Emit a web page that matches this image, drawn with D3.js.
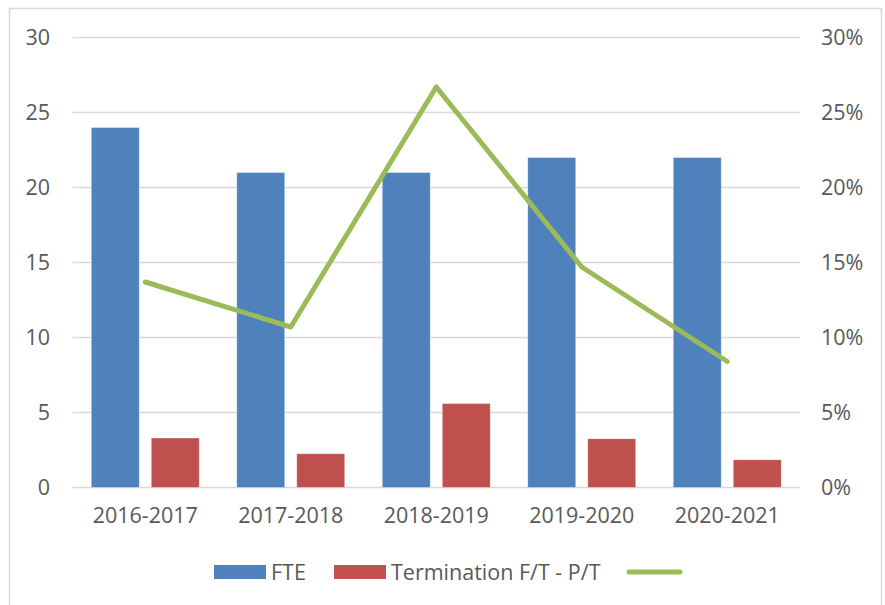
<!DOCTYPE html>
<html>
<head>
<meta charset="utf-8">
<script src="https://cdn.jsdelivr.net/npm/d3@7"></script>
<style>
  body { margin: 0; background: #fff; }
  svg text { font-family: "Open Sans", sans-serif; fill: #595959; }
</style>
</head>
<body>
<div id="main-container"></div>
<script>
// Data
const CATEGORIES = ['2016-2017', '2017-2018', '2018-2019', '2019-2020', '2020-2021'];
const FTE = [24, 21, 21, 22, 22];
const TERMINATION = [3.3, 2.25, 5.6, 3.25, 1.85];
const RATE = [0.137, 0.107, 0.267, 0.147, 0.084]; // right axis, percent
const LEFT_TICKS = [0, 5, 10, 15, 20, 25, 30];
const RIGHT_TICKS = [0, 0.05, 0.10, 0.15, 0.20, 0.25, 0.30];
const SERIES = ['FTE', 'Termination F/T - P/T'];

const COLORS = { FTE: '#4f81bd', 'Termination F/T - P/T': '#c0504d', line: '#9bbb59' };

const SVG_WIDTH = 885;
const SVG_HEIGHT = 605;
const PLOT = { left: 72.5, right: 800, top: 37.5, bottom: 487.5 };
const FONT_SIZE = '21.5px';

const SVG = d3.select('#main-container').append('svg')
    .attr('width', SVG_WIDTH)
    .attr('height', SVG_HEIGHT);

// Outer frame
SVG.append('rect')
    .attr('x', 9.5)
    .attr('y', 8.5)
    .attr('width', 872)
    .attr('height', 610)
    .attr('fill', '#fff')
    .attr('stroke', '#d9d9d9')
    .attr('stroke-width', 1.5);

// Scales
const X = d3.scaleBand(CATEGORIES, [PLOT.left, PLOT.right]);
const X_INNER = d3.scaleBand(SERIES, [0, X.bandwidth()])
    .paddingInner(0.2)
    .paddingOuter(0.3125);
const Y_LEFT = d3.scaleLinear([0, 30], [PLOT.bottom, PLOT.top]);
const Y_RIGHT = d3.scaleLinear([0, 0.30], [PLOT.bottom, PLOT.top]);

// Gridlines
SVG.append('g')
    .selectAll('line')
    .data(LEFT_TICKS)
    .join('line')
    .attr('x1', PLOT.left)
    .attr('x2', PLOT.right)
    .attr('y1', d => Y_LEFT(d))
    .attr('y2', d => Y_LEFT(d))
    .attr('stroke', '#d9d9d9')
    .attr('stroke-width', 1.5);

// Left axis labels
const LEFT_AXIS = SVG.append('g')
    .attr('transform', `translate(50, 0)`)
    .call(d3.axisLeft(Y_LEFT).tickValues(LEFT_TICKS).tickSize(0).tickPadding(0));
LEFT_AXIS.select('.domain').remove();
LEFT_AXIS.selectAll('text')
    .style('font-size', FONT_SIZE)
    .attr('fill', '#595959');

// Right axis labels
const RIGHT_AXIS = SVG.append('g')
    .attr('transform', `translate(821, 0)`)
    .call(d3.axisRight(Y_RIGHT).tickValues(RIGHT_TICKS).tickFormat(d3.format('.0%')).tickSize(0).tickPadding(0));
RIGHT_AXIS.select('.domain').remove();
RIGHT_AXIS.selectAll('text')
    .style('font-size', FONT_SIZE)
    .attr('fill', '#595959');

// Bottom axis labels
const BOTTOM_AXIS = SVG.append('g')
    .attr('transform', `translate(0, ${PLOT.bottom})`)
    .call(d3.axisBottom(X).tickSize(0).tickPadding(20));
BOTTOM_AXIS.select('.domain').remove();
BOTTOM_AXIS.selectAll('text')
    .style('font-size', FONT_SIZE)
    .attr('fill', '#595959');

// Bars
const ROWS = CATEGORIES.map((c, i) => ({ category: c, values: [FTE[i], TERMINATION[i]] }));

const GROUPS = SVG.append('g')
    .selectAll('g')
    .data(ROWS)
    .join('g')
    .attr('transform', d => `translate(${X(d.category)}, 0)`);

GROUPS.selectAll('rect')
    .data(d => d.values.map((v, i) => ({ series: SERIES[i], value: v })))
    .join('rect')
    .attr('x', d => X_INNER(d.series))
    .attr('width', X_INNER.bandwidth())
    .attr('y', d => Y_LEFT(d.value))
    .attr('height', d => Y_LEFT(0) - Y_LEFT(d.value))
    .attr('fill', d => COLORS[d.series])
    .attr('stroke', 'rgba(255,255,255,0.5)')
    .attr('stroke-width', 0.75);

// Line on right axis
const LINE = d3.line()
    .x((d, i) => X(CATEGORIES[i]) + X.bandwidth() / 2)
    .y(d => Y_RIGHT(d));

SVG.append('path')
    .datum(RATE)
    .attr('d', LINE)
    .attr('fill', 'none')
    .attr('stroke', COLORS.line)
    .attr('stroke-width', 5)
    .attr('stroke-linecap', 'round')
    .attr('stroke-linejoin', 'round');

// Legend
const LEGEND = SVG.append('g').attr('transform', 'translate(0, 572)');

LEGEND.append('rect')
    .attr('x', 214).attr('y', -7).attr('width', 52).attr('height', 14)
    .attr('fill', COLORS.FTE);
LEGEND.append('text')
    .attr('x', 271).attr('y', 0).attr('dy', '0.35em')
    .style('font-size', FONT_SIZE)
    .text(SERIES[0]);

LEGEND.append('rect')
    .attr('x', 334).attr('y', -7).attr('width', 52).attr('height', 14)
    .attr('fill', COLORS['Termination F/T - P/T']);
LEGEND.append('text')
    .attr('x', 391).attr('y', 0).attr('dy', '0.35em')
    .style('font-size', FONT_SIZE)
    .text(SERIES[1]);

LEGEND.append('line')
    .attr('x1', 629).attr('x2', 680).attr('y1', 0).attr('y2', 0)
    .attr('stroke', COLORS.line)
    .attr('stroke-width', 5)
    .attr('stroke-linecap', 'round');
</script>
</body>
</html>
